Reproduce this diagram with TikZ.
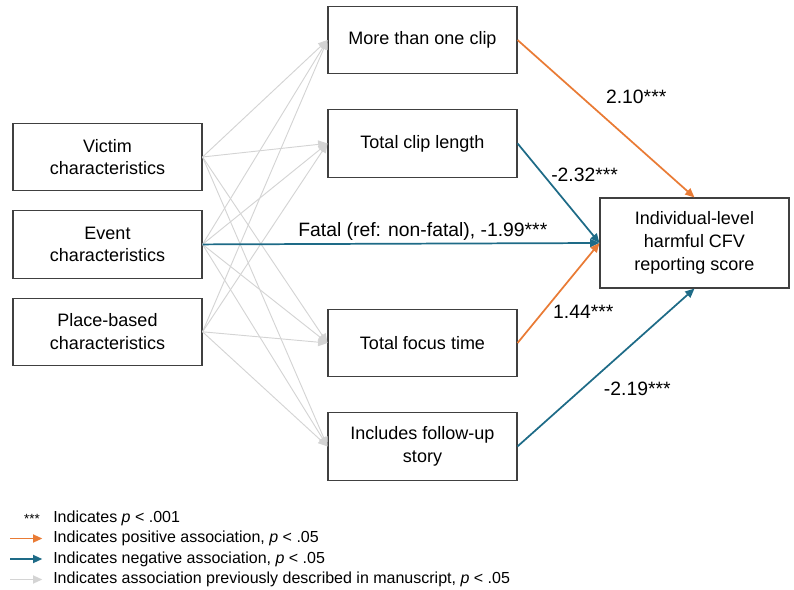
\documentclass[tikz,border=0pt]{standalone}
\usepackage{fontspec}
\setmainfont{Liberation Sans}
\usetikzlibrary{arrows.meta,positioning}

\definecolor{posorange}{HTML}{E97B35}
\definecolor{negblue}{HTML}{1E6B87}
\definecolor{prevgray}{HTML}{D4D4D4}

\begin{document}
\begin{tikzpicture}[x=0.75pt, y=-0.75pt, >={Triangle[length=7pt,width=6pt]},
  var/.style={rectangle, draw=black!75, line width=0.8pt, minimum width=141.75pt, minimum height=50.5pt, align=center, font=\fontsize{13.5}{17}\selectfont, inner sep=2pt},
  prevpath/.style={->, draw=prevgray, line width=0.7pt},
  pospath/.style={->, draw=posorange, line width=1.3pt},
  negpath/.style={->, draw=negblue, line width=1.3pt},
  coef/.style={font=\fontsize{14.5}{17}\selectfont, inner sep=1pt},
  key/.style={anchor=west, font=\fontsize{12}{14}\selectfont, inner sep=0pt}]
\useasboundingbox (0,0) rectangle (794,590);

% exposure groups
\node[var] (victim) at (107.5,157) {Victim\\characteristics};
\node[var, below=14.25pt of victim] (event) {Event\\characteristics};
\node[var, below=14.25pt of event] (place) {Place-based\\characteristics};

% video features
\node[var] (more) at (422.5,40) {More than one clip};
\node[var, below=26.25pt of more] (clip) {Total clip length};
\node[var] (focus) at (422.5,343) {Total focus time};
\node[var, below=26.25pt of focus] (follow) {Includes follow-up\\story};

% outcome
\node[var, minimum height=67.5pt] (score) at (694.5,243) {Individual-level\\harmful CFV\\reporting score};

% earlier associations
\foreach \a in {victim,event,place}
  \foreach \b in {more,clip,focus,follow}
    \draw[prevpath] (\a.east) -- (\b.west);

% significant paths
\draw[pospath] (more.east) -- node[coef, pos=0.36, right=17pt] {2.10***} (score.north);
\draw[negpath] (clip.east) -- node[coef, pos=0.32, right=4pt] {-2.32***} (score.west);
\draw[negpath] (event.east) -- node[coef, pos=0.555, above=0.5pt] {Fatal (ref: non-fatal), -1.99***} (score.west);
\draw[pospath] (focus.east) -- node[coef, pos=0.31, right=6pt] {1.44***} (score.west);
\draw[negpath] (follow.east) -- node[coef, pos=0.363, right=15pt] {-2.19***} (score.south);

% key
\node[key] (kstar) at (53,518) {Indicates \textit{p} < .001};
\node[key] (kpos) at (53,538.5) {Indicates positive association, \textit{p} < .05};
\node[key] (kneg) at (53,559) {Indicates negative association, \textit{p} < .05};
\node[key] (kprev) at (53,579.5) {Indicates association previously described in manuscript, \textit{p} < .05};
\node[key, anchor=east, font=\fontsize{10}{12}\selectfont] (stars) at (40,519) {***};
\coordinate (kpos0) at (10,538.5);
\coordinate (kneg0) at (10,559);
\coordinate (kprev0) at (10,579.5);
\draw[pospath, shorten >=8pt] (kpos0) -- (kpos.west);
\draw[negpath, shorten >=8pt] (kneg0) -- (kneg.west);
\draw[prevpath, line width=1.3pt, shorten >=8pt] (kprev0) -- (kprev.west);
\end{tikzpicture}
\end{document}
